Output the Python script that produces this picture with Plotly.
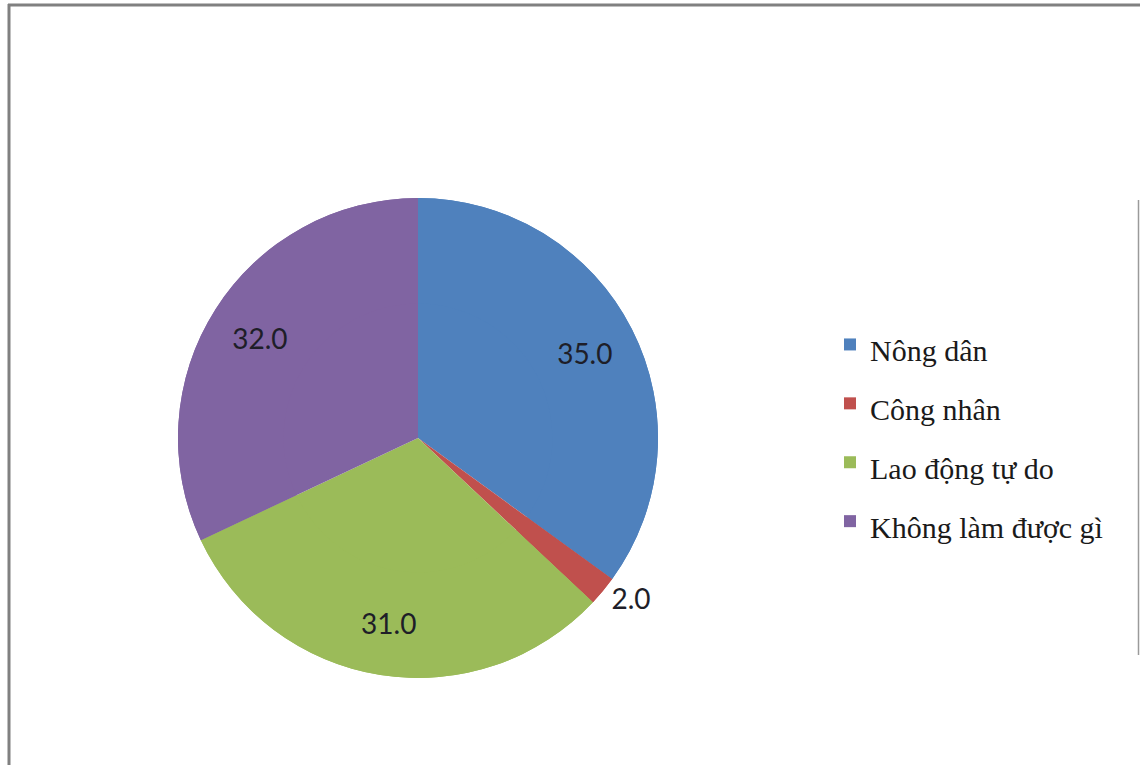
import plotly.graph_objects as go

categories = ["Nông dân", "Công nhân", "Lao động tự do", "Không làm được gì"]
values = [35.0, 2.0, 31.0, 32.0]
colors = ["#4F81BD", "#C0504D", "#9BBB59", "#8064A2"]
positions = ["inside", "outside", "inside", "inside"]

W, H = 1140, 765
cx, cy, r = 418, 438, 240
domain = dict(x=[(cx - r) / W, (cx + r) / W], y=[1 - (cy + r) / H, 1 - (cy - r) / H])

legend_labels = ["<span style='font-size:30px'>%s</span>" % c for c in categories]
label_font = dict(family="Lato, Open Sans, sans-serif", size=28, color="#1e1e28")

# full disc underneath (no text)
fig = go.Figure(go.Pie(
    labels=legend_labels,
    values=values,
    sort=False,
    direction="clockwise",
    rotation=0,
    marker=dict(colors=colors, line=dict(width=0)),
    textinfo="none",
    domain=domain,
    showlegend=False,
    hoverinfo="skip",
))

# ring on top carrying the value labels and the legend
fig.add_trace(go.Pie(
    labels=legend_labels,
    values=values,
    sort=False,
    direction="clockwise",
    rotation=0,
    hole=0.56,
    marker=dict(colors=colors, line=dict(width=0)),
    texttemplate="%{value:.1f}",
    textposition=positions,
    insidetextorientation="horizontal",
    textfont=label_font,
    outsidetextfont=label_font,
    domain=domain,
    hoverinfo="value",
))

fig.update_layout(
    width=W, height=H,
    margin=dict(l=0, r=0, t=0, b=0),
    paper_bgcolor="white",
    showlegend=True,
    legend=dict(
        x=830 / W, y=1 - 310 / H, xanchor="left", yanchor="top",
        font=dict(family="Liberation Serif, Times New Roman, serif", size=43, color="#1a1a1a"),
        itemwidth=30, bgcolor="rgba(0,0,0,0)",
    ),
    shapes=[
        dict(type="line", xref="paper", yref="paper", x0=8 / W, x1=1, y0=1 - 5 / H, y1=1 - 5 / H,
             line=dict(color="#808080", width=3)),
        dict(type="line", xref="paper", yref="paper", x0=9 / W, x1=9 / W, y0=0, y1=1 - 4 / H,
             line=dict(color="#808080", width=3)),
        dict(type="line", xref="paper", yref="paper", x0=1138.5 / W, x1=1138.5 / W, y0=1 - 655 / H, y1=1 - 200 / H,
             line=dict(color="#9a9a9a", width=1.5)),
    ],
)

fig.write_html("out.html")
